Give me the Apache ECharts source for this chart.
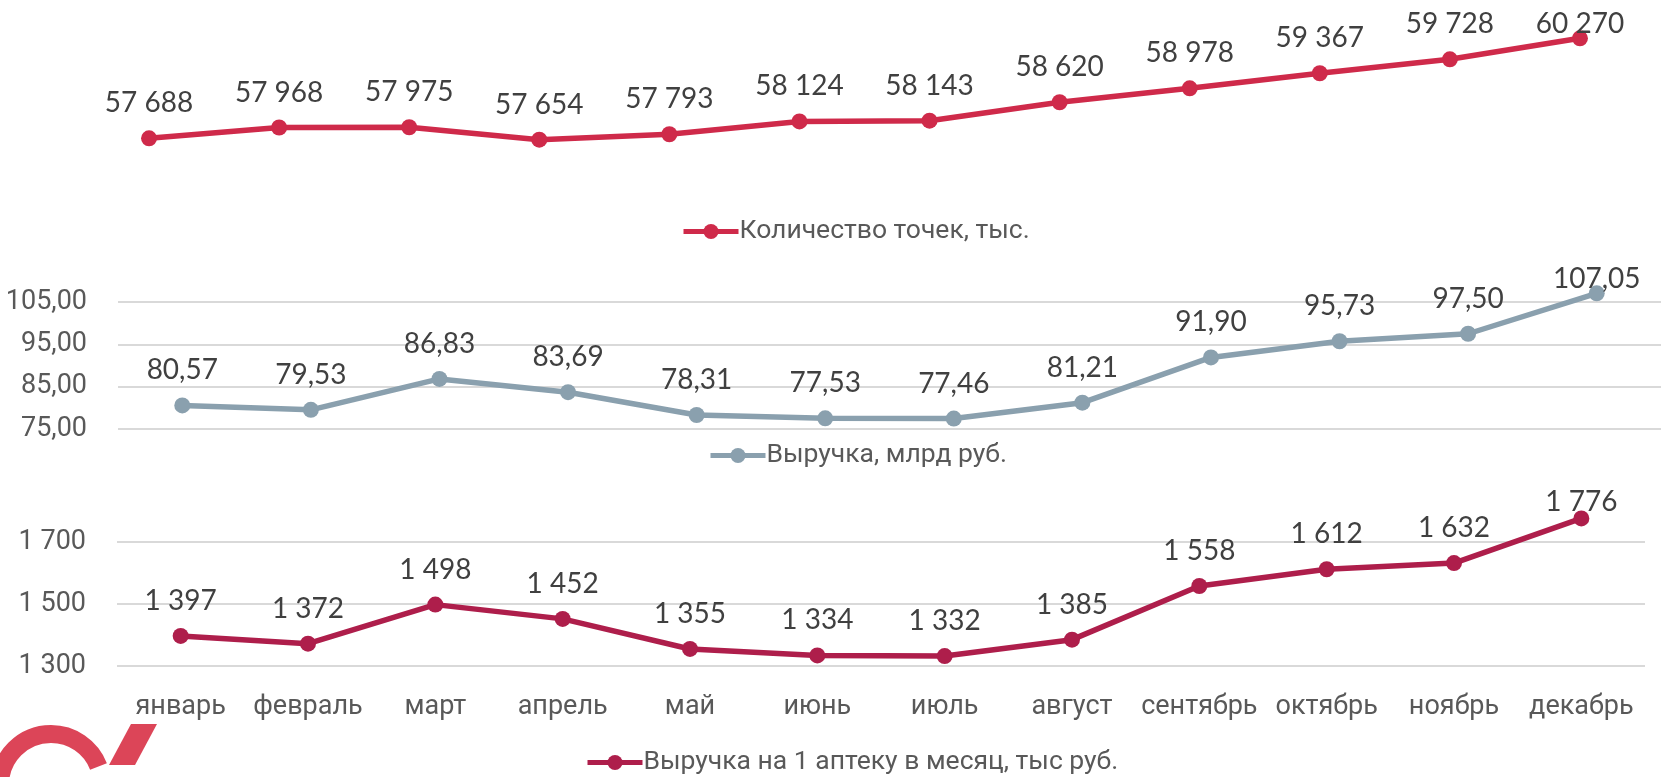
<!DOCTYPE html>
<html>
<head>
<meta charset="utf-8">
<script src="https://cdn.jsdelivr.net/npm/echarts@6/dist/echarts.min.js"></script>
<style>
  html, body { margin: 0; padding: 0; background: #fff; }
  #chart { width: 1661px; height: 777px; }
</style>
</head>
<body>
<div id="chart"></div>
<script>
// месяцы
const months = ["январь", "февраль", "март", "апрель", "май", "июнь", "июль", "август", "сентябрь", "октябрь", "ноябрь", "декабрь"];
// Количество точек, тыс.
const pointsCount = [57688, 57968, 57975, 57654, 57793, 58124, 58143, 58620, 58978, 59367, 59728, 60270];
// Выручка, млрд руб.
const revenue = [80.57, 79.53, 86.83, 83.69, 78.31, 77.53, 77.46, 81.21, 91.9, 95.73, 97.5, 107.05];
// Выручка на 1 аптеку в месяц, тыс руб.
const revenuePerPharmacy = [1397, 1372, 1498, 1452, 1355, 1334, 1332, 1385, 1558, 1612, 1632, 1776];
const revenueTicks = [75, 105, 10];
const perPharmacyTicks = [1300, 1700, 200];

const narrow = "Roboto, 'Liberation Sans', sans-serif";
const labelFont = "Lato, 'Open Sans', sans-serif";

const spaced = (v) => String(v).replace(/\B(?=(\d{3})+(?!\d))/g, " ");
const comma = (v) => v.toFixed(2).replace(".", ",");

// последняя подпись сдвинута вниз, как в исходнике
function withLabels(arr, lastShift) {
  return arr.map((v, i) => {
    const item = { value: v };
    if (i === arr.length - 1) item.label = { offset: [0, lastShift] };
    return item;
  });
}

function lineSeries(name, color, data, fmt, idx, lastShift) {
  return {
    name: name,
    type: "line",
    xAxisIndex: idx,
    yAxisIndex: idx,
    data: withLabels(data, lastShift),
    clip: false,
    symbol: "circle",
    symbolSize: 16,
    lineStyle: { color: color, width: 5.5 },
    itemStyle: { color: color },
    label: {
      show: true,
      position: "top",
      distance: 13,
      color: "#404040",
      fontFamily: labelFont,
      fontSize: 28,
      formatter: (p) => fmt(p.value),
    },
  };
}

const catAxis = (idx, showLabels) => ({
  type: "category",
  gridIndex: idx,
  data: months,
  axisLine: { show: false },
  axisTick: { show: false },
  axisLabel: {
    show: showLabels,
    interval: 0,
    color: "#595959",
    fontFamily: narrow,
    fontSize: 27,
    margin: 28,
  },
});

const legendBase = {
  orient: "horizontal",
  itemWidth: 55,
  itemHeight: 19,
  itemGap: 4,
  lineStyle: { width: 5 },
  textStyle: { color: "#595959", fontFamily: narrow, fontSize: 26.5, padding: [0, 0, 0, -4] },
};

const chart = echarts.init(document.getElementById("chart"));
chart.setOption({
  animation: false,
  backgroundColor: "#fff",
  grid: [
    { left: 84, right: 16, top: 10, height: 155 },
    { left: 118, right: 0, top: 302, height: 127 },
    { left: 117, right: 16, top: 542, height: 124 },
  ],
  legend: [
    Object.assign({}, legendBase, { data: ["Количество точек, тыс."], left: 676, top: 213 }),
    Object.assign({}, legendBase, { data: ["Выручка, млрд руб."], left: 703, top: 437 }),
    Object.assign({}, legendBase, { data: ["Выручка на 1 аптеку в месяц, тыс руб."], left: 580, top: 744 }),
  ],
  xAxis: [catAxis(0, false), catAxis(1, false), catAxis(2, true)],
  yAxis: [
    { type: "value", gridIndex: 0, min: 57000, max: 61000, show: false },
    {
      type: "value",
      gridIndex: 1,
      min: revenueTicks[0],
      max: revenueTicks[1],
      interval: revenueTicks[2],
      axisLine: { show: false },
      axisTick: { show: false },
      splitLine: { lineStyle: { color: "#D9D9D9", width: 2 } },
      axisLabel: { color: "#595959", fontFamily: narrow, fontSize: 27, margin: 31, formatter: comma },
    },
    {
      type: "value",
      gridIndex: 2,
      min: perPharmacyTicks[0],
      max: perPharmacyTicks[1],
      interval: perPharmacyTicks[2],
      axisLine: { show: false },
      axisTick: { show: false },
      splitLine: { lineStyle: { color: "#D9D9D9", width: 2 } },
      axisLabel: { color: "#595959", fontFamily: narrow, fontSize: 27, margin: 31, formatter: spaced },
    },
  ],
  series: [
    lineSeries("Количество точек, тыс.", "#CF2A4A", pointsCount, spaced, 0, 21),
    lineSeries("Выручка, млрд руб.", "#8AA0AE", revenue, comma, 1, 21),
    lineSeries("Выручка на 1 аптеку в месяц, тыс руб.", "#AE1E4B", revenuePerPharmacy, spaced, 2, 19),
  ],
  // обрезанный логотип в левом нижнем углу
  graphic: [
    {
      type: "arc",
      silent: true,
      shape: { cx: 51, cy: 785, r: 51, startAngle: Math.PI, endAngle: 5.91 },
      style: { stroke: "#DC4558", lineWidth: 18, fill: null },
    },
    {
      type: "polygon",
      silent: true,
      shape: { points: [[131, 724], [157, 724], [135, 765], [109, 765]] },
      style: { fill: "#DC4558" },
    },
  ],
});
</script>
</body>
</html>
